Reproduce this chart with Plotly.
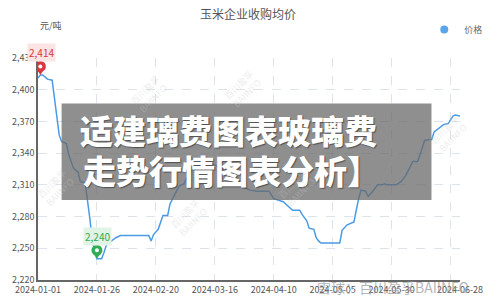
import numpy as np
import plotly.graph_objects as go

dates = ["2024-01-01", "2024-01-02", "2024-01-03", "2024-01-05", "2024-01-07", "2024-01-08",
         "2024-01-09", "2024-01-10", "2024-01-11", "2024-01-13", "2024-01-14", "2024-01-16",
         "2024-01-18", "2024-01-19", "2024-01-21", "2024-01-22", "2024-01-23", "2024-01-24",
         "2024-01-25", "2024-01-26", "2024-01-28", "2024-01-29", "2024-01-30", "2024-01-31",
         "2024-02-02", "2024-02-03", "2024-02-05", "2024-02-17", "2024-02-18", "2024-02-19",
         "2024-02-21", "2024-02-23", "2024-02-25", "2024-02-26", "2024-02-28", "2024-03-01",
         "2024-03-03", "2024-03-04", "2024-03-06", "2024-03-07", "2024-03-11", "2024-03-15",
         "2024-03-19", "2024-03-24", "2024-03-27", "2024-03-29", "2024-03-31", "2024-04-03",
         "2024-04-08", "2024-04-10", "2024-04-14", "2024-04-16", "2024-04-18", "2024-04-21",
         "2024-04-22", "2024-04-24", "2024-04-25", "2024-04-27", "2024-04-28", "2024-04-29",
         "2024-04-30", "2024-05-08", "2024-05-09", "2024-05-11", "2024-05-14", "2024-05-16",
         "2024-05-17", "2024-05-19", "2024-05-20", "2024-05-22", "2024-05-24", "2024-05-26",
         "2024-05-27", "2024-05-28", "2024-06-01", "2024-06-03", "2024-06-05", "2024-06-08",
         "2024-06-10", "2024-06-11", "2024-06-13", "2024-06-15", "2024-06-16", "2024-06-17",
         "2024-06-20", "2024-06-21", "2024-06-23", "2024-06-25", "2024-06-26", "2024-06-28"]
prices = [2411, 2414, 2414, 2410, 2409, 2390,
          2372, 2357, 2351, 2349, 2339, 2326,
          2322, 2313, 2312, 2296, 2278, 2258,
          2247, 2240, 2240, 2246, 2253, 2255,
          2258, 2260, 2262, 2262, 2257, 2263,
          2268, 2281, 2281, 2292, 2301, 2309,
          2311, 2316, 2323, 2326, 2330, 2330,
          2325, 2320, 2311, 2307, 2305, 2304,
          2304, 2297, 2294, 2290, 2286, 2286,
          2282, 2276, 2269, 2268, 2260, 2257,
          2255, 2255, 2267, 2272, 2275, 2297,
          2305, 2304, 2299, 2304, 2310, 2310,
          2311, 2310, 2310, 2313, 2319, 2332,
          2332, 2338, 2352, 2353, 2353, 2360,
          2365, 2367, 2368, 2375, 2376, 2375]

x_tickvals = ["2024-01-01", "2024-01-26", "2024-02-20", "2024-03-16", "2024-04-10",
              "2024-05-05", "2024-05-30", "2024-06-24", "2024-06-28"]
x_ticktext = ["2024-01-01", "2024-01-26", "2024-02-20", "2024-03-16", "2024-04-10",
              "2024-05-05", "2024-05-30", "", "2024-06-28"]
y_tickvals = [2220, 2250, 2280, 2310, 2340, 2370, 2400, 2430]

title = "玉米企业收购均价"
unit = "元/吨"
series_name = "价格"
overlay_line1 = "适建璃费图表玻璃费"
overlay_line2 = "走势行情图表分析】"
watermark = "雪球：百川盈孚BAIINFO"

FONT = "Noto Sans CJK SC"
LINE = "#4a9be6"

fig = go.Figure()
fig.add_trace(go.Scatter(x=dates, y=prices, mode="lines", line=dict(color=LINE, width=1.5),
                         showlegend=False, hoverinfo="skip"))
fig.add_trace(go.Scatter(x=[None], y=[None], mode="markers", name=series_name,
                         marker=dict(color="#5aa5ea", size=8), showlegend=True))

imax = int(np.argmax(prices))
imin = int(np.argmin(prices))

def py(v):
    return (283 - v) / 225

def px(v):
    return (v - 37) / 429

shapes = []
annotations = []
for idx, col, bg in [(imax, "#d9363e", "#fbe4e4"), (imin, "#2fad55", "#e0f3e4")]:
    xa, ya = dates[idx], prices[idx]
    shapes.append(dict(type="path", xref="x", yref="y", xsizemode="pixel", ysizemode="pixel",
                       xanchor=xa, yanchor=ya, path="M-4.5,7 L4.5,7 L0,0 Z",
                       fillcolor=col, line=dict(width=0), layer="above"))
    shapes.append(dict(type="circle", xref="x", yref="y", xsizemode="pixel", ysizemode="pixel",
                       xanchor=xa, yanchor=ya, x0=-5.5, x1=5.5, y0=3, y1=14,
                       fillcolor=col, line=dict(width=0), layer="above"))
    shapes.append(dict(type="circle", xref="x", yref="y", xsizemode="pixel", ysizemode="pixel",
                       xanchor=xa, yanchor=ya, x0=-2, x1=2, y0=6.5, y1=10.5,
                       fillcolor="white", line=dict(width=0), layer="above"))
    annotations.append(dict(x=xa, y=ya, xref="x", yref="y", text=f"{ya:,}", showarrow=False,
                            yshift=22, xshift=1, bgcolor=bg, borderpad=1,
                            font=dict(family=FONT, size=10, color=col)))

# overlay box
shapes.append(dict(type="rect", xref="paper", yref="paper",
                   x0=px(61), x1=px(437), y0=py(202), y1=py(104),
                   fillcolor="rgba(105,105,105,0.75)", line=dict(width=0), layer="above"))

shadow = "1px 1px 1px rgba(40,40,40,0.6)"
annotations += [
    dict(text=title, x=px(250), y=py(13), xref="paper", yref="paper", xanchor="center",
         yanchor="middle", showarrow=False, font=dict(family=FONT, size=12, color="#555555")),
    dict(text=unit, x=0.0, y=py(25), xref="paper", yref="paper", xanchor="left",
         yanchor="middle", showarrow=False, font=dict(family=FONT, size=9, color="#555555")),
    dict(text=overlay_line1, x=px(231), y=py(131), xref="paper", yref="paper",
         xanchor="center", yanchor="middle", showarrow=False,
         font=dict(family=FONT, size=33, color="white", weight=900, shadow=shadow)),
    dict(text=overlay_line2, x=px(234), y=py(172), xref="paper", yref="paper",
         xanchor="center", yanchor="middle", showarrow=False,
         font=dict(family=FONT, size=33, color="white", weight=900, shadow=shadow)),
    dict(text=watermark, x=px(398), y=py(290), xref="paper", yref="paper",
         xanchor="center", yanchor="middle", showarrow=False,
         font=dict(family=FONT, size=14, color="rgba(150,150,150,0.7)")),
]
for wx, wy in [(125, 70), (245, 65), (190, 245), (300, 215), (480, 110), (30, 190)]:
    annotations.append(dict(text="百川盈孚<br>BAIINFO", x=px(wx), y=py(wy),
                            xref="paper", yref="paper", showarrow=False, textangle=-45,
                            font=dict(family=FONT, size=9, color="rgba(200,200,200,0.35)")))

fig.update_layout(
    width=500, height=308,
    margin=dict(l=37, r=34, t=58, b=25),
    paper_bgcolor="white", plot_bgcolor="white",
    font=dict(family=FONT, size=9, color="#555555"),
    shapes=shapes, annotations=annotations,
    legend=dict(x=1.067, y=py(29), xanchor="right", yanchor="middle",
                font=dict(family=FONT, size=9, color="#666666"), bgcolor="rgba(0,0,0,0)",
                itemwidth=30),
    xaxis=dict(type="date", range=["2024-01-01", "2024-06-28"], tickvals=x_tickvals,
               ticktext=x_ticktext, showgrid=True, gridcolor="#dde3ea", griddash="dash",
               gridwidth=1, showline=True, linecolor="#666666", linewidth=1.5, ticks="",
               zeroline=False, tickfont=dict(family=FONT, size=9, color="#555555")),
    yaxis=dict(range=[2220, 2430], tickvals=y_tickvals, tickformat=",", showgrid=True,
               gridcolor="#dde3ea", griddash="dash", gridwidth=1, showline=True,
               linecolor="#666666", linewidth=1.5, ticks="", zeroline=False,
               tickfont=dict(family=FONT, size=9, color="#555555")),
)

fig.write_html("out.html")
